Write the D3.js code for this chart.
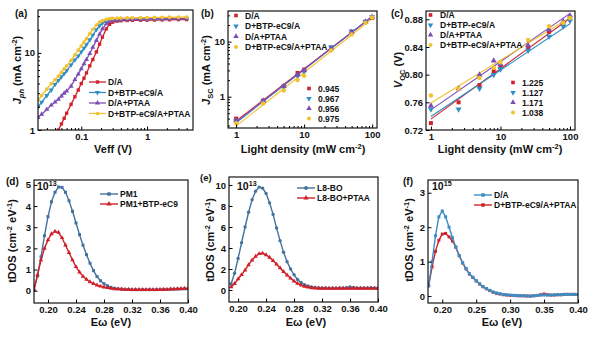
<!DOCTYPE html>
<html><head><meta charset="utf-8">
<script src="https://cdn.jsdelivr.net/npm/d3@7"></script>
<style>
body{margin:0;background:#fff;}
svg{font-family:"Liberation Sans",Arial,sans-serif;font-weight:bold;}
</style></head><body>
<svg id="fig" width="600" height="340"></svg>
<script>
// ---------- data ----------
const devices = ["D/A", "D+BTP-eC9/A", "D/A+PTAA", "D+BTP-eC9/A+PTAA"];

// (a) photocurrent vs effective voltage
const veff = [0.022,0.025,0.03,0.035,0.04,0.045,0.05,0.055,0.06,0.07,0.08,0.09,0.1,0.11,0.12,0.135,0.15,0.17,0.19,0.21,0.24,0.27,0.3,0.35,0.4,0.5,0.6,0.8,1,1.3,1.7,2.2,3,4];
const jphDA      = [0.29,0.36,0.49,0.65,0.82,1.0,1.2,1.42,1.65,2.15,2.7,3.3,4.0,4.7,5.5,6.8,8.2,10.3,13,16,20.5,23.5,25,25.8,26.1,26.3,26.4,26.5,26.6,26.7,26.8,26.9,27.0,27.1];
const jphBTP     = [2.0,2.3,2.8,3.3,3.9,4.4,4.9,5.4,5.9,7.0,8.1,9.1,10.3,11.5,12.8,14.8,17,20,22.5,24.3,25.8,26.5,26.8,27,27.1,27.2,27.3,27.4,27.5,27.6,27.7,27.8,27.9,28.0];
const jphPTAA    = [1.45,1.6,1.85,2.1,2.3,2.5,2.75,3.0,3.2,3.7,4.5,5.3,6.2,7.2,8.2,9.8,11.8,14.5,17.5,20.5,23.8,25.5,26.3,26.8,27,27.2,27.3,27.4,27.5,27.6,27.7,27.8,27.9,28.0];
const jphBTPPTAA = [2.45,2.8,3.4,4.0,4.5,5.0,5.6,6.2,6.8,8.0,9.4,10.9,12.3,13.8,15.3,17.8,20.2,23,25,26.3,27.3,27.8,28,28.2,28.3,28.4,28.5,28.6,28.7,28.8,28.9,29,29.1,29.2];

// (b) Jsc vs light density
const lightDensity = [1,2.5,5,8,10,25,50,80,100];
const jscDA      = [0.40,0.85,1.55,2.7,3.1,7.8,15,23,27];
const jscBTP     = [0.36,0.82,1.5,2.4,2.9,7.9,15.5,23,28];
const jscPTAA    = [0.37,0.84,1.55,2.5,3.0,7.6,15,23,28];
const jscBTPPTAA = [0.33,0.75,1.3,2.0,2.4,6.9,13.5,22,27.5];
const jscSlopes  = [0.945, 0.967, 0.956, 0.975];

// (c) Voc vs light density
const vocDA      = [0.730,0.760,0.785,0.805,0.812,0.840,0.862,0.875,0.882];
const vocBTP     = [0.750,0.750,0.780,0.800,0.808,0.835,0.855,0.870,0.878];
const vocPTAA    = [0.755,0.780,0.800,0.820,0.815,0.842,0.865,0.877,0.885];
const vocBTPPTAA = [0.770,0.780,0.795,0.810,0.818,0.850,0.870,0.875,0.882];
const vocIdeality = [1.225, 1.127, 1.171, 1.038];
const thermalVoltage = 0.02585;

// (d) trap density of states, PM1 films
const energyD = [0.180,0.185,0.190,0.195,0.200,0.205,0.210,0.215,0.220,0.225,0.230,0.235,0.240,0.245,0.250,0.255,0.260,0.265,0.270,0.275,0.280,0.285,0.290,0.295,0.300,0.305,0.310,0.315,0.320,0.325,0.330,0.335,0.340,0.345,0.350,0.355,0.360,0.365,0.370,0.375,0.380,0.385,0.390,0.395,0.400];
const tdosPM1    = [0.05,0.7,1.6,2.6,3.5,4.2,4.65,4.9,4.88,4.65,4.25,3.75,3.2,2.65,2.15,1.7,1.3,0.95,0.67,0.47,0.33,0.23,0.16,0.11,0.09,0.07,0.06,0.06,0.05,0.05,0.05,0.05,0.05,0.05,0.05,0.05,0.06,0.06,0.06,0.07,0.07,0.08,0.08,0.09,0.09];
const tdosPM1BTP = [0.05,0.75,1.45,2.0,2.4,2.68,2.8,2.75,2.5,2.15,1.8,1.45,1.13,0.88,0.68,0.53,0.42,0.33,0.26,0.21,0.17,0.14,0.11,0.09,0.08,0.07,0.06,0.06,0.05,0.05,0.05,0.05,0.05,0.05,0.05,0.05,0.05,0.06,0.06,0.07,0.08,0.09,0.10,0.11,0.10];

// (e) trap density of states, L8-BO films
const energyE = [0.190,0.195,0.200,0.205,0.210,0.215,0.220,0.225,0.230,0.235,0.240,0.245,0.250,0.255,0.260,0.265,0.270,0.275,0.280,0.285,0.290,0.295,0.300,0.305,0.310,0.315,0.320,0.325,0.330,0.335,0.340,0.345,0.350,0.355,0.360,0.365,0.370,0.375,0.380,0.385,0.390,0.395,0.400];
const tdosL8     = [0.6,1.6,3.0,4.5,6.0,7.4,8.6,9.4,9.8,9.7,9.2,8.3,7.2,5.9,4.7,3.6,2.7,2.0,1.45,1.0,0.72,0.5,0.38,0.3,0.25,0.22,0.2,0.19,0.18,0.18,0.18,0.2,0.2,0.22,0.3,0.25,0.2,0.2,0.2,0.2,0.22,0.2,0.2];
const tdosL8PTAA = [0.3,0.6,1.05,1.45,1.9,2.4,2.85,3.2,3.45,3.5,3.35,3.1,2.8,2.45,2.1,1.75,1.42,1.12,0.85,0.63,0.46,0.34,0.26,0.21,0.18,0.16,0.15,0.15,0.15,0.15,0.15,0.15,0.16,0.15,0.15,0.15,0.16,0.15,0.15,0.16,0.15,0.15,0.15];

// (f) trap density of states, devices
const energyF = energyD;
const tdosDA       = [0.3,1.0,1.75,2.3,2.47,2.3,2.0,1.7,1.42,1.18,0.97,0.8,0.65,0.55,0.45,0.36,0.28,0.22,0.17,0.12,0.09,0.07,0.05,0.04,0.03,0.02,0.02,0.01,0.01,0.01,0.0,0.01,0.02,0.03,0.03,0.03,0.03,0.04,0.04,0.04,0.05,0.05,0.05,0.05,0.05];
const tdosBTPPTAA  = [0.3,0.85,1.3,1.62,1.8,1.82,1.72,1.6,1.42,1.17,0.96,0.79,0.64,0.54,0.44,0.35,0.27,0.21,0.16,0.11,0.08,0.06,0.04,0.03,0.02,0.02,0.01,0.01,0.01,0.0,0.0,0.01,0.02,0.04,0.06,0.04,0.03,0.03,0.04,0.04,0.05,0.05,0.05,0.05,0.05];

// ---------- styling ----------
const RED = "#d0202a", CYAN = "#2f8fc6", PURPLE = "#7b4fb5", YELLOW = "#f2c230";
const STEEL = "#44729f", SKY = "#3a8ec4";
const triDown = {draw(ctx, size){ const s = Math.sqrt(size / (Math.sqrt(3) / 4)); const h = s * Math.sqrt(3) / 2;
  ctx.moveTo(-s/2, -h/3); ctx.lineTo(s/2, -h/3); ctx.lineTo(0, 2*h/3); ctx.closePath(); }};
const triUp = {draw(ctx, size){ const s = Math.sqrt(size / (Math.sqrt(3) / 4)); const h = s * Math.sqrt(3) / 2;
  ctx.moveTo(-s/2, h/3); ctx.lineTo(s/2, h/3); ctx.lineTo(0, -2*h/3); ctx.closePath(); }};
const deviceStyle = [
  {color: RED, sym: d3.symbolSquare},
  {color: CYAN, sym: triDown},
  {color: PURPLE, sym: triUp},
  {color: YELLOW, sym: d3.symbolCircle}
];

const svg = d3.select("#fig");
const FS_TICK = 9.5, FS_TITLE = 11, FS_LEG = 8.5;

function rich(sel, parts, size){
  let shift = 0;
  parts.forEach(p => {
    const ts = sel.append("tspan").text(p.t);
    const target = p.sub ? 3 : p.sup ? -4.5 : 0;
    if (target - shift !== 0) ts.attr("dy", target - shift);
    shift = target;
    if (p.sub || p.sup) ts.attr("font-size", size * 0.68);
    if (p.it) ts.attr("font-style", "italic");
  });
}

function panel(id, box){
  const g = svg.append("g");
  g.append("clipPath").attr("id", "clip-" + id).append("rect")
    .attr("x", box.x0).attr("y", box.y0).attr("width", box.x1 - box.x0).attr("height", box.y1 - box.y0);
  const plot = g.append("g").attr("clip-path", `url(#clip-${id})`);
  return {g, plot, box};
}

function frame(p){
  p.g.append("rect").attr("x", p.box.x0).attr("y", p.box.y0)
    .attr("width", p.box.x1 - p.box.x0).attr("height", p.box.y1 - p.box.y0)
    .attr("fill", "none").attr("stroke", "#000").attr("stroke-width", 1.1);
}

// inward-pointing ticks, labels sitting just outside the frame
function axes(p, x, y, o){
  const xa = p.g.append("g").attr("transform", `translate(0,${p.box.y1})`)
    .call(d3.axisBottom(x).tickValues(o.xTicks).tickFormat(o.xFmt).tickSize(-3.5).tickPadding(3));
  const ya = p.g.append("g").attr("transform", `translate(${p.box.x0},0)`)
    .call(d3.axisLeft(y).tickValues(o.yTicks).tickFormat(o.yFmt).tickSize(-3.5).tickPadding(3));
  if (o.xMinor) p.g.append("g").attr("transform", `translate(0,${p.box.y1})`)
    .call(d3.axisBottom(x).tickValues(o.xMinor).tickFormat("").tickSize(-2));
  if (o.yMinor) p.g.append("g").attr("transform", `translate(${p.box.x0},0)`)
    .call(d3.axisLeft(y).tickValues(o.yMinor).tickFormat("").tickSize(-2));
  p.g.selectAll(".domain").remove();
  p.g.selectAll(".tick line").attr("stroke", "#000").attr("stroke-width", 1);
  [xa, ya].forEach(a => a.selectAll("text").attr("font-size", FS_TICK).attr("font-weight", "bold")
    .attr("font-family", '"Liberation Sans", Arial, sans-serif').attr("fill", "#111"));
}

function yTitle(x, y, parts){
  const t = svg.append("text").attr("transform", `translate(${x},${y}) rotate(-90)`)
    .attr("text-anchor", "middle").attr("font-size", FS_TITLE).attr("fill", "#111");
  rich(t, parts, FS_TITLE);
}
function xTitle(x, y, parts){
  const t = svg.append("text").attr("x", x).attr("y", y)
    .attr("text-anchor", "middle").attr("font-size", FS_TITLE).attr("fill", "#111");
  rich(t, parts, FS_TITLE);
}
function label(x, y, s){
  svg.append("text").attr("x", x).attr("y", y).attr("font-size", 10).attr("fill", "#111").text(s);
}
function expLabel(x, y, e){
  const t = svg.append("text").attr("x", x).attr("y", y).attr("font-size", 10.5).attr("fill", "#111");
  rich(t, [{t: "10"}, {t: e, sup: true}], 10.5);
}
function marks(g, pts, sym, size, color){
  g.selectAll(null).data(pts).join("path")
    .attr("transform", d => `translate(${d[0]},${d[1]})`)
    .attr("d", d3.symbol().type(sym).size(size)).attr("fill", color);
}

const boxes = {
  a: {x0: 38, x1: 193, y0: 10, y1: 130},
  b: {x0: 228, x1: 377, y0: 11, y1: 128},
  c: {x0: 426, x1: 575, y0: 11, y1: 130},
  d: {x0: 34, x1: 188, y0: 180, y1: 303},
  e: {x0: 229, x1: 378, y0: 177, y1: 302},
  f: {x0: 428, x1: 578, y0: 180, y1: 303}
};

// ---------- (a) ----------
{
  const p = panel("a", boxes.a);
  const x = d3.scaleLog().domain([0.022, 5]).range([p.box.x0, p.box.x1]);
  const y = d3.scaleLog().domain([1, 36]).range([p.box.y1, p.box.y0]);
  const series = [jphDA, jphBTP, jphPTAA, jphBTPPTAA];
  const line = d3.line().x((d, i) => x(veff[i])).y(d => y(Math.max(d, 0.5)));
  series.forEach((s, k) => {
    const st = deviceStyle[k];
    p.plot.append("path").datum(s).attr("d", line).attr("fill", "none").attr("stroke", st.color).attr("stroke-width", 1.3);
    marks(p.plot, s.map((d, i) => [x(veff[i]), y(Math.max(d, 0.5))]), st.sym, 11, st.color);
  });
  frame(p);
  axes(p, x, y, {
    xTicks: [0.1, 1], xFmt: d3.format("~g"),
    xMinor: [0.03,0.04,0.05,0.06,0.07,0.08,0.09,0.2,0.3,0.4,0.5,0.6,0.7,0.8,0.9,2,3,4],
    yTicks: [1, 10], yFmt: d3.format("~g"),
    yMinor: [2,3,4,5,6,7,8,9,20,30]
  });
  devices.forEach((n, k) => {
    const ly = 82 + k * 10.5, st = deviceStyle[k];
    svg.append("line").attr("x1", 89).attr("x2", 106).attr("y1", ly).attr("y2", ly).attr("stroke", st.color).attr("stroke-width", 1.3);
    marks(svg, [[97.5, ly]], st.sym, 11, st.color);
    svg.append("text").attr("x", 108).attr("y", ly + 3).attr("font-size", FS_LEG).attr("fill", "#111").text(n);
  });
  label(15, 17, "(a)");
  yTitle(21, 70, [{t: "J", it: true}, {t: "ph", it: true, sub: true}, {t: " (mA cm"}, {t: "-2", sup: true}, {t: ")"}]);
  xTitle(113, 153, [{t: "Veff (V)"}]);
}

// ---------- (b) ----------
{
  const p = panel("b", boxes.b);
  const x = d3.scaleLog().domain([0.76, 118]).range([p.box.x0, p.box.x1]);
  const y = d3.scaleLog().domain([0.27, 36]).range([p.box.y1, p.box.y0]);
  const series = [jscDA, jscBTP, jscPTAA, jscBTPPTAA];
  series.forEach((s, k) => {
    const st = deviceStyle[k], a = jscSlopes[k];
    // power-law fit J = J0 * P^alpha with the stated exponent
    const logJ0 = d3.mean(s, (d, i) => Math.log10(d) - a * Math.log10(lightDensity[i]));
    const fit = [1, 100].map(P => [x(P), y(Math.pow(10, logJ0 + a * Math.log10(P)))]);
    p.plot.append("line").attr("x1", fit[0][0]).attr("y1", fit[0][1]).attr("x2", fit[1][0]).attr("y2", fit[1][1])
      .attr("stroke", st.color).attr("stroke-width", 1.1);
  });
  series.forEach((s, k) => {
    const st = deviceStyle[k];
    marks(p.plot, s.map((d, i) => [x(lightDensity[i]), y(d)]), st.sym, 16, st.color);
  });
  frame(p);
  axes(p, x, y, {
    xTicks: [1, 10, 100], xFmt: d3.format("~g"),
    xMinor: [2,3,4,5,6,7,8,9,20,30,40,50,60,70,80,90],
    yTicks: [1, 10], yFmt: d3.format("~g"),
    yMinor: [0.3,0.4,0.5,0.6,0.7,0.8,0.9,2,3,4,5,6,7,8,9,20,30]
  });
  devices.forEach((n, k) => {
    const ly = 15.5 + k * 10.5, st = deviceStyle[k];
    marks(svg, [[236, ly]], st.sym, 13, st.color);
    svg.append("text").attr("x", 245).attr("y", ly + 3).attr("font-size", FS_LEG).attr("fill", "#111").text(n);
  });
  jscSlopes.forEach((v, k) => {
    const ly = 88.5 + k * 10, st = deviceStyle[k];
    marks(svg, [[309, ly]], st.sym, 13, st.color);
    svg.append("text").attr("x", 318).attr("y", ly + 3).attr("font-size", FS_LEG).attr("fill", "#111").text(v.toFixed(3));
  });
  label(201, 17, "(b)");
  yTitle(210, 70, [{t: "J", it: true}, {t: "SC", sub: true}, {t: " (mA cm"}, {t: "-2", sup: true}, {t: ")"}]);
  xTitle(303, 153, [{t: "Light density (mW cm"}, {t: "-2", sup: true}, {t: ")"}]);
}

// ---------- (c) ----------
{
  const p = panel("c", boxes.c);
  const x = d3.scaleLog().domain([0.85, 118]).range([p.box.x0, p.box.x1]);
  const y = d3.scaleLinear().domain([0.72, 0.892]).range([p.box.y1, p.box.y0]);
  const series = [vocDA, vocBTP, vocPTAA, vocBTPPTAA];
  series.forEach((s, k) => {
    const st = deviceStyle[k], slope = vocIdeality[k] * thermalVoltage;
    // Voc = V0 + n kT/q ln(P) with the stated ideality factor
    const v0 = d3.mean(s, (d, i) => d - slope * Math.log(lightDensity[i]));
    const fit = [1, 100].map(P => [x(P), y(v0 + slope * Math.log(P))]);
    p.plot.append("line").attr("x1", fit[0][0]).attr("y1", fit[0][1]).attr("x2", fit[1][0]).attr("y2", fit[1][1])
      .attr("stroke", st.color).attr("stroke-width", 1.1);
  });
  series.forEach((s, k) => {
    const st = deviceStyle[k];
    marks(p.plot, s.map((d, i) => [x(lightDensity[i]), y(d)]), st.sym, 16, st.color);
  });
  frame(p);
  axes(p, x, y, {
    xTicks: [1, 10, 100], xFmt: d3.format("~g"),
    xMinor: [2,3,4,5,6,7,8,9,20,30,40,50,60,70,80,90],
    yTicks: [0.72, 0.76, 0.80, 0.84, 0.88], yFmt: d3.format(".2f")
  });
  devices.forEach((n, k) => {
    const ly = 15 + k * 10, st = deviceStyle[k];
    marks(svg, [[430.5, ly]], st.sym, 13, st.color);
    svg.append("text").attr("x", 440).attr("y", ly + 3).attr("font-size", FS_LEG).attr("fill", "#111").text(n);
  });
  vocIdeality.forEach((v, k) => {
    const ly = 82.5 + k * 10, st = deviceStyle[k];
    marks(svg, [[513, ly]], st.sym, 13, st.color);
    svg.append("text").attr("x", 522).attr("y", ly + 3).attr("font-size", FS_LEG).attr("fill", "#111").text(v.toFixed(3));
  });
  label(391, 17, "(c)");
  yTitle(402, 70, [{t: "V", it: true}, {t: "OC", sub: true}, {t: " (V)"}]);
  xTitle(500, 153, [{t: "Light density (mW cm"}, {t: "-2", sup: true}, {t: ")"}]);
}

// ---------- tDOS panels ----------
function tdosPanel(id, box, xDom, yDom, xTicks, yTicks, energy, list, legX, legY, legDy){
  const p = panel(id, box);
  const x = d3.scaleLinear().domain(xDom).range([box.x0, box.x1]);
  const y = d3.scaleLinear().domain(yDom).range([box.y1, box.y0]);
  const line = d3.line().x((d, i) => x(energy[i])).y(d => y(d));
  list.forEach(s => {
    p.plot.append("path").datum(s.v).attr("d", line).attr("fill", "none").attr("stroke", s.color).attr("stroke-width", 1.4);
    marks(p.plot, s.v.map((d, i) => [x(energy[i]), y(d)]), s.sym, 9, s.color);
  });
  frame(p);
  axes(p, x, y, {xTicks, xFmt: d3.format(".2f"), yTicks, yFmt: d3.format("d")});
  list.slice().sort((a, b) => a.order - b.order).forEach((s, k) => {
    const ly = legY + k * legDy;
    svg.append("line").attr("x1", legX).attr("x2", legX + 18).attr("y1", ly).attr("y2", ly).attr("stroke", s.color).attr("stroke-width", 1.4);
    marks(svg, [[legX + 9, ly]], s.sym, 12, s.color);
    svg.append("text").attr("x", legX + 20).attr("y", ly + 3).attr("font-size", FS_LEG).attr("fill", "#111").text(s.name);
  });
  return p;
}

const tdosTitle = [{t: "tDOS (cm"}, {t: "-2", sup: true}, {t: " eV"}, {t: "-1", sup: true}, {t: ")"}];
const eTitle = [{t: "E\u03c9 (eV)"}];

tdosPanel("d", boxes.d, [0.18, 0.40], [-0.58, 5.23], [0.20,0.24,0.28,0.32,0.36,0.40], [0,1,2,3,4,5],
  energyD, [
    {name: "PM1", v: tdosPM1, color: STEEL, sym: d3.symbolSquare, order: 0},
    {name: "PM1+BTP-eC9", v: tdosPM1BTP, color: RED, sym: triUp, order: 1}
  ], 100, 194, 10);
label(6, 185, "(d)");
expLabel(37, 190, "13");
yTitle(16, 241, tdosTitle);
xTitle(111, 326, eTitle);

tdosPanel("e", boxes.e, [0.187, 0.40], [-1.14, 10.76], [0.20,0.24,0.28,0.32,0.36,0.40], [0,2,4,6,8,10],
  energyE, [
    {name: "L8-BO", v: tdosL8, color: STEEL, sym: d3.symbolCircle, order: 0},
    {name: "L8-BO+PTAA", v: tdosL8PTAA, color: RED, sym: triUp, order: 1}
  ], 297, 188, 10);
svg.append("text").attr("x", 200).attr("y", 181).attr("font-size", 9.5).attr("fill", "#111").text("(e)");
expLabel(237, 190, "13");
yTitle(214, 240, tdosTitle);
xTitle(306, 326, eTitle);

tdosPanel("f", boxes.f, [0.179, 0.40], [-0.2, 3.37], [0.20,0.25,0.30,0.35,0.40], [0,1,2,3],
  energyF, [
    {name: "D+BTP-eC9/A+PTAA", v: tdosBTPPTAA, color: RED, sym: d3.symbolSquare, order: 1},
    {name: "D/A", v: tdosDA, color: SKY, sym: d3.symbolSquare, order: 0}
  ], 474, 195, 10);
label(403, 185, "(f)");
expLabel(432, 190, "15");
yTitle(413, 240, tdosTitle);
xTitle(502, 326, eTitle);
</script>
</body></html>
